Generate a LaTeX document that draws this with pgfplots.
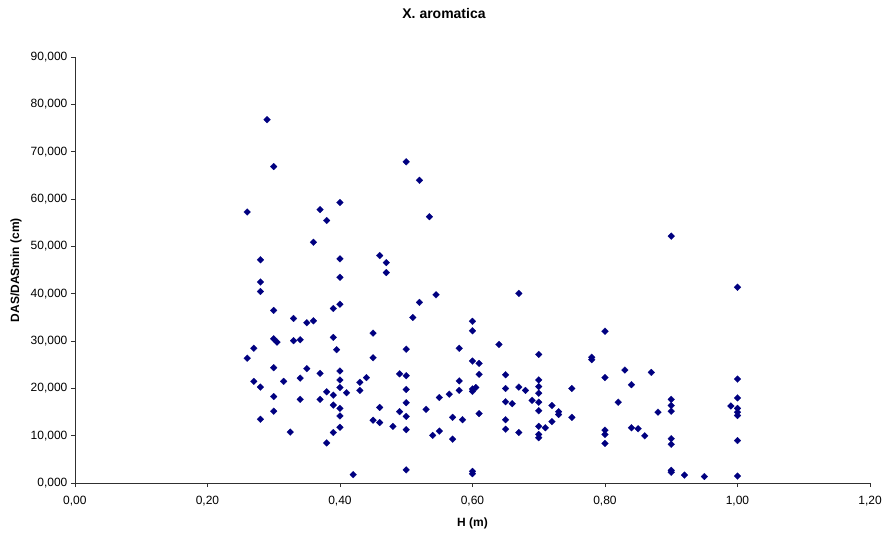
\documentclass[border=0pt]{standalone}
\usepackage{fontspec}
\setmainfont{Liberation Sans}
\usepackage{pgfplots}
\pgfplotsset{compat=1.18}
\definecolor{navy}{HTML}{000080}
\definecolor{axisgray}{HTML}{303030}
\begin{document}
\begin{tikzpicture}
\begin{axis}[
  scale only axis,
  width=796pt, height=426.4pt,
  xmin=0, xmax=1.2, ymin=0, ymax=90,
  axis x line=bottom, axis y line=left,
  axis line style={-, draw=axisgray, line width=0.8pt},
  tick style={draw=axisgray, line width=0.8pt},
  tick align=outside, major tick length=4pt,
  xtick={0,0.2,0.4,0.6,0.8,1.0,1.2},
  ytick={0,10,20,30,40,50,60,70,80,90},
  minor tick num=0,
  /pgf/number format/assume math mode=true,
  xticklabel style={/pgf/number format/fixed, /pgf/number format/fixed zerofill, /pgf/number format/precision=2, /pgf/number format/use comma, /pgf/number format/1000 sep={}, yshift=-5pt},
  yticklabel style={/pgf/number format/fixed, /pgf/number format/fixed zerofill, /pgf/number format/precision=3, /pgf/number format/use comma, /pgf/number format/1000 sep={}},
  scaled x ticks=false, scaled y ticks=false,
  ticklabel style={font=\fontsize{12}{14}\selectfont, text=black},
  xlabel={H (m)},
  ylabel={DAS/DASmin (cm)},
  xlabel style={font=\bfseries\fontsize{12}{14}\selectfont, at={(axis description cs:0.5,0)}, anchor=center, yshift=-40.3pt},
  ylabel style={font=\bfseries\fontsize{12}{14}\selectfont, at={(axis description cs:0,0.5)}, anchor=center, yshift=59pt},
  clip=false,
]
\addplot[only marks, mark=square*, mark size=2.4pt, color=navy,
  every mark/.append style={rotate=45, fill=navy, draw=navy, line width=0.2pt}]
  table {
x y
0.26 57.3
0.29 76.8
0.30 66.9
0.50 67.9
0.52 64.0
0.37 57.8
0.40 59.3
0.38 55.5
0.535 56.3
0.36 50.9
0.40 47.4
0.28 47.2
0.46 48.1
0.47 46.6
0.47 44.5
0.40 43.5
0.28 42.5
0.28 40.5
0.545 39.8
0.52 38.2
0.39 36.9
0.40 37.8
0.30 36.5
0.51 35.0
0.33 34.8
0.35 33.9
0.36 34.3
0.45 31.7
0.39 30.8
0.30 30.5
0.305 29.8
0.33 30.1
0.34 30.3
0.27 28.5
0.395 28.2
0.50 28.3
0.26 26.4
0.45 26.5
0.30 24.4
0.35 24.2
0.40 23.7
0.37 23.2
0.49 23.1
0.50 22.7
0.34 22.2
0.44 22.3
0.40 21.8
0.27 21.5
0.315 21.5
0.43 21.3
0.28 20.3
0.40 20.2
0.43 19.6
0.38 19.3
0.41 19.1
0.50 19.8
0.39 18.6
0.30 18.3
0.34 17.7
0.37 17.7
0.55 18.1
0.50 17.0
0.39 16.5
0.40 15.8
0.46 16.0
0.53 15.6
0.30 15.2
0.49 15.1
0.40 14.2
0.50 14.1
0.28 13.5
0.45 13.3
0.46 12.8
0.40 11.8
0.48 12.0
0.50 11.3
0.55 11.0
0.54 10.1
0.325 10.8
0.39 10.7
0.38 8.5
0.50 2.8
0.42 1.8
0.67 40.1
0.60 34.2
0.60 32.2
0.80 32.1
0.64 29.3
0.58 28.5
0.70 27.2
0.78 26.6
0.78 26.1
0.60 25.8
0.61 25.3
0.83 23.9
0.61 23.0
0.65 22.9
0.80 22.3
0.58 21.6
0.70 21.8
0.84 20.8
0.70 20.4
0.60 19.9
0.605 20.2
0.65 20.0
0.67 20.3
0.68 19.6
0.58 19.6
0.60 19.4
0.75 20.0
0.70 19.0
0.565 18.8
0.69 17.5
0.65 17.2
0.66 16.8
0.70 17.1
0.82 17.1
0.72 16.4
0.70 15.3
0.73 15.1
0.73 14.5
0.61 14.7
0.75 13.9
0.57 13.9
0.585 13.4
0.65 13.4
0.72 13.0
0.70 12.0
0.71 11.7
0.84 11.7
0.85 11.5
0.80 11.2
0.80 10.3
0.65 11.4
0.67 10.7
0.70 10.3
0.70 9.6
0.57 9.3
0.80 8.4
0.60 2.5
0.60 2.0
0.90 52.2
1.00 41.4
0.87 23.4
1.00 22.0
0.90 17.7
0.90 16.4
0.90 15.2
0.88 15.0
1.00 18.0
0.99 16.3
1.00 15.8
1.00 15.0
1.00 14.3
0.86 10.0
0.90 9.4
0.90 8.2
1.00 9.0
0.90 2.7
0.90 2.3
0.92 1.7
0.95 1.4
1.00 1.5
};
\coordinate (bl) at (rel axis cs:0,0);
\end{axis}
\path ([shift={(-75pt,-54.3pt)}]bl) rectangle ++(885pt,538pt);
\node[font=\bfseries\fontsize{14}{16}\selectfont, anchor=center] at ([shift={(369.5pt,470.4pt)}]bl) {X. aromatica};
\end{tikzpicture}
\end{document}
